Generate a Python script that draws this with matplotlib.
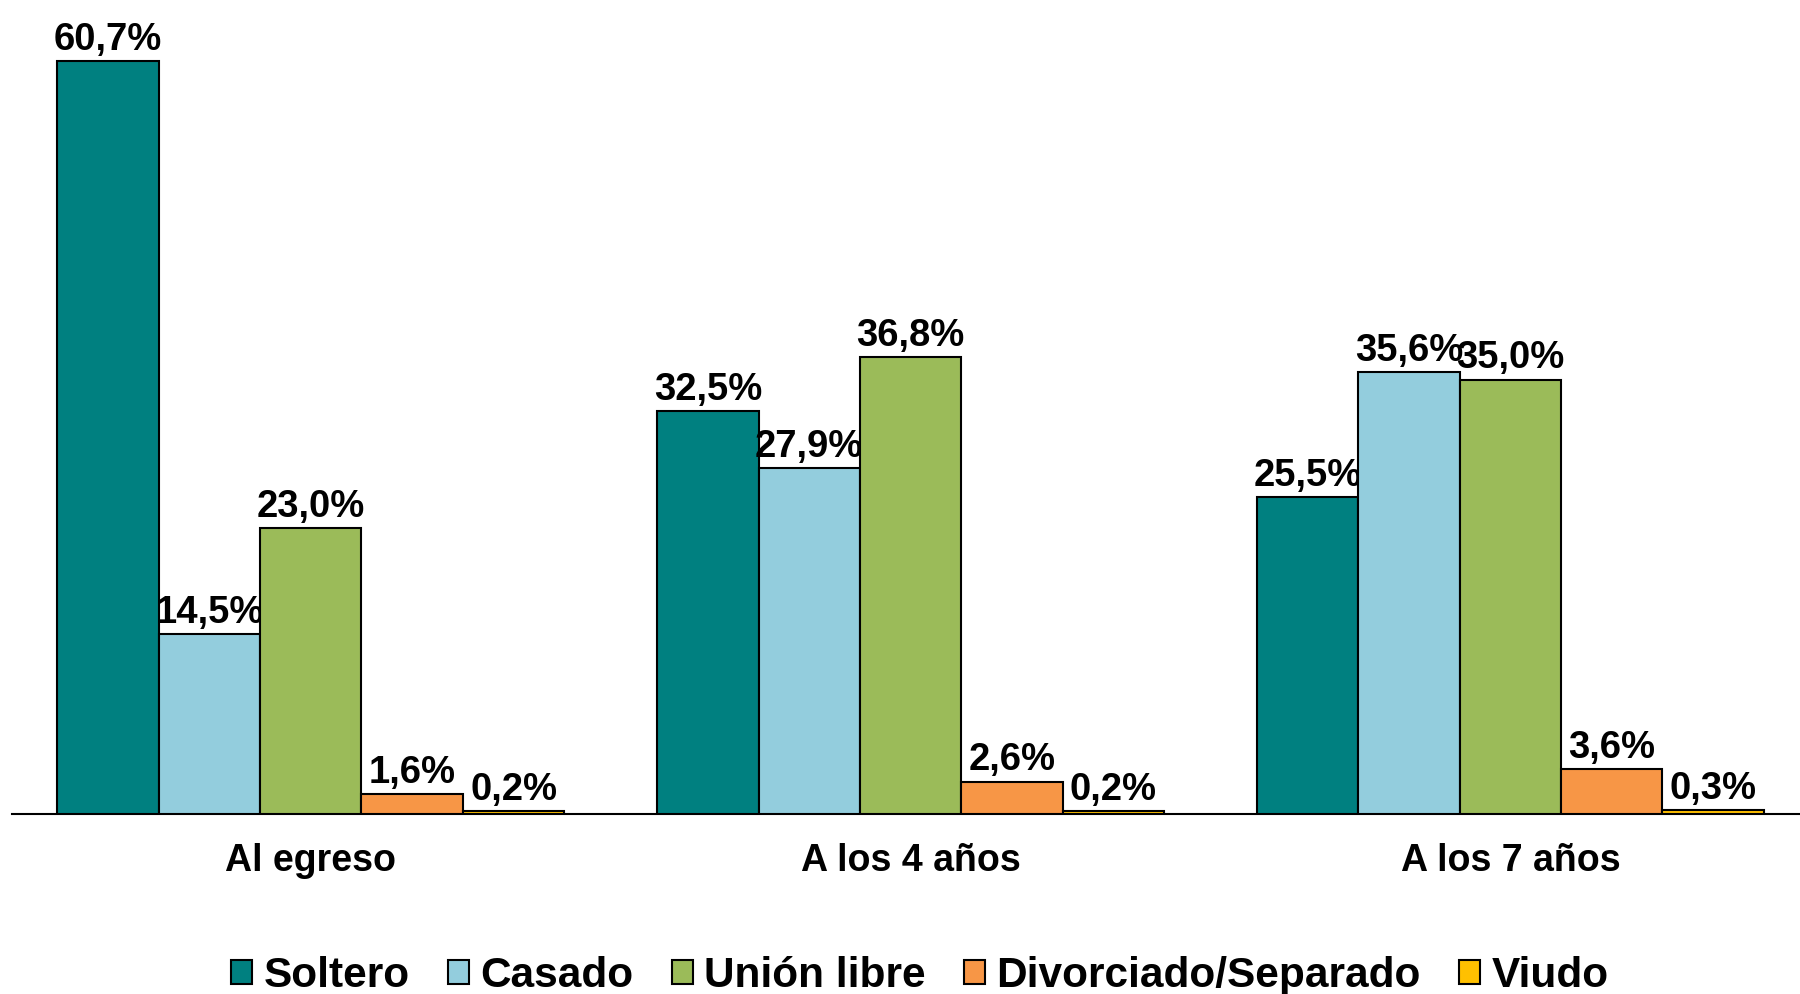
import matplotlib
matplotlib.use("Agg")
import matplotlib.pyplot as plt
import numpy as np

plt.rcParams['font.family'] = ['Liberation Sans', 'DejaVu Sans']

categories = ["Al egreso", "A los 4 años", "A los 7 años"]
series = ["Soltero", "Casado", "Unión libre", "Divorciado/Separado", "Viudo"]
soltero = [60.7, 32.5, 25.5]
casado = [14.5, 27.9, 35.6]
union_libre = [23.0, 36.8, 35.0]
divorciado = [1.6, 2.6, 3.6]
viudo = [0.2, 0.2, 0.3]
values = [soltero, casado, union_libre, divorciado, viudo]
colors = ["#008080", "#93CDDD", "#9BBB59", "#F79646", "#FFC000"]

fig = plt.figure(figsize=(18, 9.94), dpi=100)
ax = fig.add_axes([0.0064, 0.1813, 0.9936, 0.8187])

x = np.arange(len(categories))
bw = 0.169
n = len(series)
for i, (name, vals, col) in enumerate(zip(series, values, colors)):
    pos = x + (i - (n - 1) / 2) * bw
    bars = ax.bar(pos, vals, width=bw, color=col, edgecolor="black",
                  linewidth=1.5, label=name, zorder=3)
    for b, v in zip(bars, vals):
        ax.annotate(f"{v:.1f}%".replace(".", ","),
                    (b.get_x() + b.get_width() / 2, b.get_height()),
                    xytext=(0, 8), textcoords="offset points",
                    ha="center", va="baseline", fontsize=27.5, fontweight="bold")

ax.set_xlim(-0.499, 2.483)
ax.set_ylim(0, 65.6)
ax.set_xticks(x)
ax.set_xticklabels(categories, fontsize=27, fontweight="bold")
ax.tick_params(axis="x", length=0, pad=21)
ax.set_yticks([])
for s in ["top", "right", "left"]:
    ax.spines[s].set_visible(False)
ax.spines["bottom"].set_linewidth(1.5)
ax.spines["bottom"].set_color("black")

fig.legend(loc="center", bbox_to_anchor=(0.511, 0.018), ncol=5,
           frameon=False, prop={"size": 30.5, "weight": "bold"},
           handlelength=0.5, handleheight=0.5, handletextpad=0.27,
           columnspacing=0.9, borderpad=0, borderaxespad=0)

fig.savefig("out.png", dpi=100)
